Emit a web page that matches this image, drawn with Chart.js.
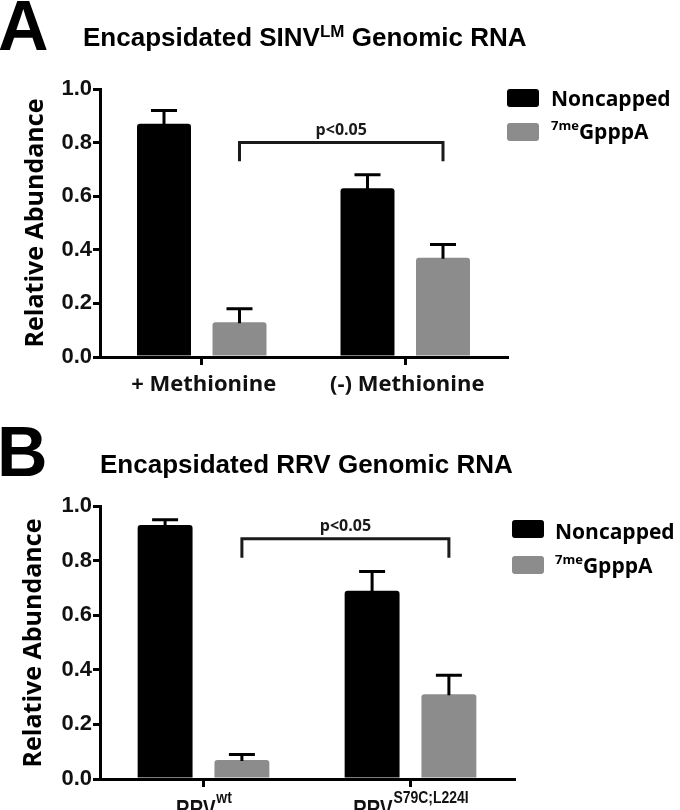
<!DOCTYPE html>
<html lang="en">
<head>
<meta charset="UTF-8">
<title>Encapsidated genomic RNA</title>
<script src="https://cdn.jsdelivr.net/npm/chart.js@4"></script>
<style>
    body {
        margin: 0;
        width: 680px;
        height: 810px;
        position: relative;
        overflow: hidden;
        background: #fff;
        color: #000;
    }
    .abs { position: absolute; white-space: nowrap; }
    .letter { font: bold 70px 'Liberation Sans', Arial, sans-serif; line-height: 70px; }
    .title { font: bold 26px 'Liberation Sans', Arial, sans-serif; line-height: 30px; }
    .title sup { font-size: 17px; vertical-align: 9px; line-height: 0; }
    .ylab {
        width: 300px; height: 34px; line-height: 34px; text-align: center;
        font: bold 25px 'Open Sans', sans-serif;
        transform: rotate(-90deg);
    }
    .legend { font: bold 21px 'Open Sans', sans-serif; line-height: 30px; }
    .legend sup { font-size: 13px; vertical-align: 9px; line-height: 0; }
    .swatch { position: absolute; width: 32px; height: 18px; border-radius: 3px; }
    canvas { position: absolute; left: 0; }
</style>
</head>
<body>
    <!-- Panel A -->
    <canvas id="chartA" width="680" height="410" style="top:0"></canvas>
    <div class="abs letter" style="left:-2px; top:-9px">A</div>
    <div class="abs title" style="left:83px; top:22px">Encapsidated SINV<sup>LM</sup> Genomic RNA</div>
    <div class="abs ylab" style="left:-117px; top:206px">Relative Abundance</div>
    <div class="swatch" style="left:507px; top:89px; background:#000"></div>
    <div class="swatch" style="left:507px; top:123px; background:#8c8c8c"></div>
    <div class="abs legend" id="legA1" style="left:551px; top:83px"></div>
    <div class="abs legend" id="legA2" style="left:551px; top:116px"></div>

    <!-- Panel B -->
    <canvas id="chartB" width="680" height="400" style="top:410px"></canvas>
    <div class="abs letter" style="left:-3px; top:417px">B</div>
    <div class="abs title" style="left:100px; top:449px">Encapsidated RRV Genomic RNA</div>
    <div class="abs ylab" style="left:-119px; top:626px">Relative Abundance</div>
    <div class="swatch" style="left:512px; top:520px; background:#000"></div>
    <div class="swatch" style="left:512px; top:556px; background:#8c8c8c"></div>
    <div class="abs legend" id="legB1" style="left:555px; top:516px"></div>
    <div class="abs legend" id="legB2" style="left:555px; top:550px"></div>

<script>
// data
const groupsA = ['+ Methionine', '(-) Methionine'];
const noncappedA = [0.87, 0.63];
const noncappedErrA = [0.05, 0.05];
const cappedA = [0.13, 0.37];
const cappedErrA = [0.05, 0.05];

const groupsB = [['RRV', 'wt'], ['RRV', 'S79C;L224I']];
const noncappedB = [0.93, 0.69];
const noncappedErrB = [0.02, 0.07];
const cappedB = [0.07, 0.31];
const cappedErrB = [0.02, 0.07];

const yTicks = [0, 0.2, 0.4, 0.6, 0.8, 1.0];
const seriesNames = ['Noncapped', ['7me', 'GpppA']];
const pLabel = 'p<0.05';
// significance bracket: bar height and foot height, in data units
const bracketA = [0.80, 0.73];
const bracketB = [0.88, 0.81];

const BLACK = '#000000';
const GREY = '#8c8c8c';

document.getElementById('legA1').textContent = seriesNames[0];
document.getElementById('legB1').textContent = seriesNames[0];
['legA2', 'legB2'].forEach(id => {
    document.getElementById(id).innerHTML = '<sup>' + seriesNames[1][0] + '</sup>' + seriesNames[1][1];
});

// error bars (upper only) on top of each bar
const errorBars = {
    id: 'errorBars',
    afterDatasetsDraw(chart, args, opts) {
        const ctx = chart.ctx;
        const y = chart.scales.y;
        ctx.save();
        ctx.strokeStyle = '#000';
        ctx.lineWidth = 3;
        chart.data.datasets.forEach((ds, i) => {
            chart.getDatasetMeta(i).data.forEach((bar, j) => {
                const top = y.getPixelForValue(ds.data[j] + ds.errors[j]);
                const base = y.getPixelForValue(ds.data[j]) + 1;
                ctx.beginPath();
                ctx.moveTo(bar.x, base);
                ctx.lineTo(bar.x, top);
                ctx.moveTo(bar.x - opts.cap / 2, top);
                ctx.lineTo(bar.x + opts.cap / 2, top);
                ctx.stroke();
            });
        });
        ctx.restore();
    }
};

// bracket between the two grey bars with the p value
const bracket = {
    id: 'bracket',
    afterDatasetsDraw(chart, args, opts) {
        const ctx = chart.ctx;
        const y = chart.scales.y;
        const bars = chart.getDatasetMeta(1).data;
        const x1 = bars[0].x, x2 = bars[1].x;
        const yTop = y.getPixelForValue(opts.levels[0]);
        const yFoot = y.getPixelForValue(opts.levels[1]);
        ctx.save();
        ctx.strokeStyle = '#1a1a1a';
        ctx.lineWidth = 3;
        ctx.beginPath();
        ctx.moveTo(x1, yFoot);
        ctx.lineTo(x1, yTop);
        ctx.lineTo(x2, yTop);
        ctx.lineTo(x2, yFoot);
        ctx.stroke();
        ctx.fillStyle = '#1a1a1a';
        ctx.font = 'bold 16px "Open Sans", sans-serif';
        ctx.textAlign = 'center';
        ctx.textBaseline = 'middle';
        ctx.fillText(pLabel, (x1 + x2) / 2, yTop - 12);
        ctx.restore();
    }
};

// category labels below the x axis (panel B needs superscripts)
const xLabels = {
    id: 'xLabels',
    afterDraw(chart, args, opts) {
        const ctx = chart.ctx;
        const x = chart.scales.x;
        const bottom = chart.chartArea.bottom;
        ctx.save();
        ctx.fillStyle = '#111';
        chart.data.labels.forEach((lab, i) => {
            const cx = x.getPixelForTick(i);
            if (typeof lab === 'string') {
                ctx.font = 'bold 22px "Open Sans", sans-serif';
                ctx.textAlign = 'center';
                ctx.textBaseline = 'middle';
                ctx.fillText(lab, cx + 2, bottom + opts.offset);
            } else {
                const squeeze = 0.82;
                ctx.textAlign = 'left';
                ctx.textBaseline = 'alphabetic';
                ctx.font = 'bold 23px "Liberation Sans", Arial, sans-serif';
                const mw = ctx.measureText(lab[0]).width;
                ctx.font = 'bold 17px "Liberation Sans", Arial, sans-serif';
                const sw = ctx.measureText(lab[1]).width;
                const start = cx - (mw + sw) * squeeze / 2;
                ctx.save();
                ctx.translate(start, bottom + opts.offset);
                ctx.scale(squeeze, 1);
                ctx.font = 'bold 23px "Liberation Sans", Arial, sans-serif';
                ctx.fillText(lab[0], 0, 0);
                ctx.font = 'bold 17px "Liberation Sans", Arial, sans-serif';
                ctx.fillText(lab[1], mw + 1, -14);
                ctx.restore();
            }
        });
        ctx.restore();
    }
};

function makeChart(id, labels, nonc, noncErr, capd, capdErr, geo, levels) {
    return new Chart(document.getElementById(id), {
        type: 'bar',
        data: {
            labels: labels,
            datasets: [
                { label: 'Noncapped', data: nonc, errors: noncErr, backgroundColor: BLACK,
                  borderRadius: 3, categoryPercentage: 0.742, barPercentage: 0.715 },
                { label: '7meGpppA', data: capd, errors: capdErr, backgroundColor: GREY,
                  borderRadius: 3, categoryPercentage: 0.742, barPercentage: 0.715 }
            ]
        },
        options: {
            responsive: false,
            animation: false,
            layout: { padding: { top: geo.top, right: geo.right, left: 0, bottom: 0 } },
            plugins: {
                legend: { display: false },
                tooltip: { enabled: false },
                errorBars: { cap: 26 },
                bracket: { levels: levels },
                xLabels: { offset: geo.labelOffset }
            },
            scales: {
                x: {
                    ticks: { display: false },
                    grid: { offset: false, drawOnChartArea: false, drawTicks: true, tickLength: 8, color: '#000', lineWidth: 3 },
                    border: { display: true, color: '#000', width: 3 },
                    afterFit: s => { s.height = geo.xHeight; }
                },
                y: {
                    min: 0,
                    max: 1,
                    afterBuildTicks: s => { s.ticks = yTicks.map(v => ({ value: v })); },
                    ticks: {
                        color: '#111',
                        padding: 1,
                        font: { family: '"Liberation Sans", Arial, sans-serif', weight: 'bold', size: 22 },
                        callback: v => v.toFixed(1)
                    },
                    grid: { drawOnChartArea: false, drawTicks: true, tickLength: 7, color: '#000', lineWidth: 3 },
                    border: { display: true, color: '#000', width: 3 },
                    afterFit: s => { s.width = 100; }
                }
            }
        },
        plugins: [errorBars, bracket, xLabels]
    });
}

makeChart('chartA', groupsA, noncappedA, noncappedErrA, cappedA, cappedErrA,
    { top: 89, right: 173, xHeight: 53, labelOffset: 28 }, bracketA);
makeChart('chartB', groupsB, noncappedB, noncappedErrB, cappedB, cappedErrB,
    { top: 96, right: 166, xHeight: 31, labelOffset: 38 }, bracketB);
</script>
</body>
</html>
